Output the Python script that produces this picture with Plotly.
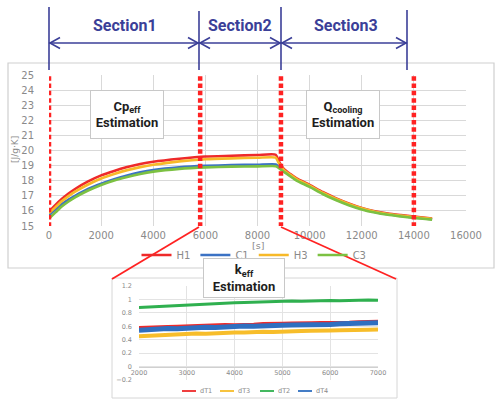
import plotly.graph_objects as go

W, H = 495, 401

# ---- main chart: effective heat capacity vs. time ----
t = [0, 250, 500, 750, 1000, 1500, 2000, 2500, 3000, 3500, 4000, 5000, 6000, 7000, 8000,
     8700, 8800, 9000, 9250, 9500, 10000, 10500, 11000, 11500, 12000, 12500, 13000, 13500, 14000, 14700]
h1 = [15.95, 16.4, 16.8, 17.15, 17.45, 17.95, 18.35, 18.65, 18.9, 19.1, 19.25, 19.45, 19.6, 19.65, 19.7,
      19.72, 19.35, 18.8, 18.45, 18.15, 17.72, 17.25, 16.85, 16.5, 16.2, 15.98, 15.83, 15.72, 15.62, 15.5]
c1 = [15.7, 16.1, 16.45, 16.75, 17.0, 17.45, 17.8, 18.1, 18.35, 18.55, 18.7, 18.88, 18.98, 19.03, 19.06,
      19.08, 18.95, 18.66, 18.35, 18.06, 17.64, 17.17, 16.77, 16.43, 16.14, 15.93, 15.78, 15.67, 15.57, 15.45]
h3 = [15.85, 16.25, 16.65, 16.98, 17.27, 17.75, 18.15, 18.45, 18.7, 18.9, 19.05, 19.28, 19.42, 19.48, 19.52,
      19.53, 19.22, 18.74, 18.4, 18.1, 17.67, 17.2, 16.8, 16.46, 16.17, 15.95, 15.8, 15.69, 15.59, 15.47]
c3 = [15.5, 15.9, 16.3, 16.62, 16.9, 17.35, 17.72, 18.02, 18.25, 18.45, 18.6, 18.78, 18.88, 18.93, 18.95,
      18.96, 18.86, 18.6, 18.3, 18.01, 17.59, 17.12, 16.72, 16.38, 16.1, 15.89, 15.74, 15.63, 15.53, 15.42]
main_names = ["H1", "C1", "H3", "C3"]
main_colors = ["#ee2a2a", "#3b72c4", "#f7b928", "#7cc142"]

# section boundaries [s]
cut_lines = [0, 5800, 8900, 14000]
section_names = ["Section1", "Section2", "Section3"]

# ---- inset: temperature differences, 2000-7000 s ----
t_in = [2000 + 200 * i for i in range(26)]
dT1 = [0.574, 0.583, 0.580, 0.591, 0.594, 0.601, 0.598, 0.610, 0.612, 0.618, 0.615, 0.626, 0.624,
       0.633, 0.630, 0.638, 0.641, 0.637, 0.646, 0.649, 0.645, 0.655, 0.652, 0.660, 0.664, 0.668]
dT3 = [0.452, 0.461, 0.467, 0.474, 0.479, 0.486, 0.492, 0.489, 0.500, 0.504, 0.509, 0.506, 0.515,
       0.519, 0.516, 0.525, 0.522, 0.530, 0.534, 0.531, 0.538, 0.541, 0.539, 0.546, 0.549, 0.552]
dT2 = [0.881, 0.889, 0.897, 0.906, 0.911, 0.921, 0.926, 0.931, 0.940, 0.944, 0.952, 0.955, 0.961,
       0.963, 0.970, 0.968, 0.975, 0.973, 0.979, 0.976, 0.983, 0.980, 0.986, 0.983, 0.990, 0.987]
dT4 = [0.540, 0.552, 0.558, 0.566, 0.563, 0.575, 0.580, 0.586, 0.583, 0.594, 0.597, 0.603, 0.600,
       0.611, 0.609, 0.617, 0.620, 0.618, 0.627, 0.631, 0.628, 0.636, 0.640, 0.643, 0.648, 0.651]
inset_names = ["dT1", "dT3", "dT2", "dT4"]
inset_colors = ["#ee2a2a", "#f7bd2a", "#2fb04f", "#2f6fc0"]
inset_widths = [4, 4, 3, 5]


def px(x):
    return x / W


def py(y):
    return 1 - y / H


GRID = "#d9d9d9"
TICK = "#8a8a8a"
BLUE = "#3b3f98"
RED = "#ff2222"

fig = go.Figure()

for name, ys, col in zip(main_names, [h1, c1, h3, c3], main_colors):
    fig.add_trace(go.Scatter(x=t, y=ys, name=name, mode="lines",
                             line=dict(color=col, width=2.6, shape="spline", smoothing=0.6),
                             xaxis="x", yaxis="y", legend="legend"))

for name, ys, col, w in zip(inset_names, [dT1, dT3, dT2, dT4], inset_colors, inset_widths):
    fig.add_trace(go.Scatter(x=t_in, y=ys, name=name, mode="lines",
                             line=dict(color=col, width=w),
                             xaxis="x2", yaxis="y2", showlegend=False))

# inset axis geometry
y2_dom = [py(380), py(286)]
y2_rng = [-0.2, 1.2]
zero_pos = y2_dom[0] + (0 - y2_rng[0]) / (y2_rng[1] - y2_rng[0]) * (y2_dom[1] - y2_dom[0])

fig.update_layout(
    template="none",
    width=W, height=H,
    margin=dict(l=0, r=0, t=0, b=0, pad=0),
    paper_bgcolor="white", plot_bgcolor="white",
    font=dict(family="DejaVu Sans", color=TICK),
    xaxis=dict(domain=[px(49), px(466)], range=[0, 16000], dtick=2000, tickformat="d",
               showgrid=True, gridcolor=GRID, gridwidth=1, zeroline=False, showline=False,
               ticks="", automargin=False, ticklabelstandoff=2,
               tickfont=dict(family="DejaVu Sans", size=10, color=TICK),
               anchor="y"),
    yaxis=dict(domain=[py(226), py(75)], range=[15, 25], dtick=1,
               showgrid=True, gridcolor=GRID, gridwidth=1, zeroline=False, showline=False,
               ticks="", ticklabelstandoff=14, automargin=False,
               tickfont=dict(family="DejaVu Sans", size=10, color=TICK),
               anchor="x"),
    xaxis2=dict(domain=[px(139), px(378)], range=[2000, 7000], dtick=1000, tickformat="d",
                showgrid=True, gridcolor="#e3e3e3", gridwidth=1, zeroline=False,
                showline=True, linecolor="#d0d0d0", linewidth=1,
                ticks="", anchor="free", position=zero_pos, automargin=False,
                tickfont=dict(family="DejaVu Sans", size=6.5, color=TICK)),
    yaxis2=dict(domain=y2_dom, range=y2_rng, dtick=0.2,
                showgrid=True, gridcolor="#e3e3e3", gridwidth=1, zeroline=False, showline=False,
                ticks="", anchor="x2", ticklabelstandoff=6, automargin=False,
                tickfont=dict(family="DejaVu Sans", size=6.5, color=TICK)),
    legend=dict(orientation="h", x=px(254), xanchor="center", y=py(255), yanchor="middle",
                font=dict(family="DejaVu Sans", size=10, color=TICK),
                bgcolor="rgba(0,0,0,0)", borderwidth=0, tracegroupgap=0),
)

shapes = []
# outer frames
shapes.append(dict(type="rect", xref="paper", yref="paper", x0=px(8), x1=px(494), y0=py(268), y1=py(63),
                   line=dict(color="#cfcfcf", width=1.2), fillcolor="rgba(0,0,0,0)", layer="below"))
shapes.append(dict(type="rect", xref="paper", yref="paper", x0=px(112), x1=px(397), y0=py(398), y1=py(278),
                   line=dict(color="#d6d6d6", width=1), fillcolor="rgba(0,0,0,0)", layer="below"))

# red dotted boundaries
for xv in cut_lines:
    shapes.append(dict(type="line", xref="x", yref="y", x0=xv, x1=xv, y0=14.95, y1=25.15,
                       line=dict(color=RED, width=4.5, dash="4.5px,2.8px")))

# red zoom lines towards the inset
shapes.append(dict(type="line", xref="paper", yref="paper", x0=px(199), y0=py(227), x1=px(112), y1=py(279),
                   line=dict(color=RED, width=1.8)))
shapes.append(dict(type="line", xref="paper", yref="paper", x0=px(281), y0=py(227), x1=px(396), y1=py(279),
                   line=dict(color=RED, width=1.8)))

# section markers above the chart
edge_px = [49, 199, 281, 407]
edge_top = [7, 11, 7, 10]
arrow_y = 43
for xp, yt in zip(edge_px, edge_top):
    shapes.append(dict(type="line", xref="paper", yref="paper", x0=px(xp), x1=px(xp), y0=py(yt), y1=py(70),
                       line=dict(color=BLUE, width=1.6)))
for i in range(3):
    xa, xb = edge_px[i], edge_px[i + 1]
    shapes.append(dict(type="line", xref="paper", yref="paper", x0=px(xa), x1=px(xb), y0=py(arrow_y), y1=py(arrow_y),
                       line=dict(color=BLUE, width=1.6)))
    shapes.append(dict(type="path", xref="paper", yref="paper",
                       path=f"M {px(xa + 11)},{py(arrow_y - 5.5)} L {px(xa + 1)},{py(arrow_y)} L {px(xa + 11)},{py(arrow_y + 5.5)}",
                       line=dict(color=BLUE, width=1.6)))
    shapes.append(dict(type="path", xref="paper", yref="paper",
                       path=f"M {px(xb - 11)},{py(arrow_y - 5.5)} L {px(xb - 1)},{py(arrow_y)} L {px(xb - 11)},{py(arrow_y + 5.5)}",
                       line=dict(color=BLUE, width=1.6)))

# inset legend keys
leg_x = [182, 220, 260, 298]
for xp, col in zip(leg_x, inset_colors):
    shapes.append(dict(type="line", xref="paper", yref="paper", x0=px(xp), x1=px(xp + 14), y0=py(391), y1=py(391),
                       line=dict(color=col, width=1.8)))

for s in shapes:
    fig.add_shape(**s)

ann = []
label_x = [125, 240, 346]
for name, xp in zip(section_names, label_x):
    ann.append(dict(x=px(xp), y=py(25), text=f"<b>{name}</b>",
                    font=dict(family="Roboto", size=16, color=BLUE)))

box_font = dict(family="Roboto", size=13, color="#1e1e1e")
ann.append(dict(x=px(127), y=py(114.5), text="<b>Cp<sub>eff</sub></b><br><b>Estimation</b>",
                font=box_font, bgcolor="white", bordercolor="#c8c8c8", borderwidth=1,
                width=70, height=45))
ann.append(dict(x=px(343), y=py(114.5), text="<b>Q<sub>cooling</sub></b><br><b>Estimation</b>",
                font=box_font, bgcolor="white", bordercolor="#c8c8c8", borderwidth=1,
                width=70, height=45))
ann.append(dict(x=px(243.5), y=py(278), text="<b>k<sub>eff</sub></b><br><b>Estimation</b>",
                font=box_font, bgcolor="white", bordercolor="#c8c8c8", borderwidth=1,
                width=78, height=36))

ann.append(dict(x=px(15), y=py(150), text="[J/g·K]", textangle=-90,
                font=dict(family="DejaVu Sans", size=9, color=TICK)))
ann.append(dict(x=px(258), y=py(245.5), text="[s]",
                font=dict(family="DejaVu Sans", size=9.5, color=TICK)))

for xp, name in zip(leg_x, inset_names):
    ann.append(dict(x=px(xp + 16), y=py(391), text=name, xanchor="left",
                    font=dict(family="DejaVu Sans", size=6.5, color=TICK)))

for a in ann:
    a.setdefault("xref", "paper")
    a.setdefault("yref", "paper")
    a.setdefault("xanchor", "center")
    a.setdefault("yanchor", "middle")
    a.setdefault("showarrow", False)
    fig.add_annotation(**a)

fig.write_html("out.html")
